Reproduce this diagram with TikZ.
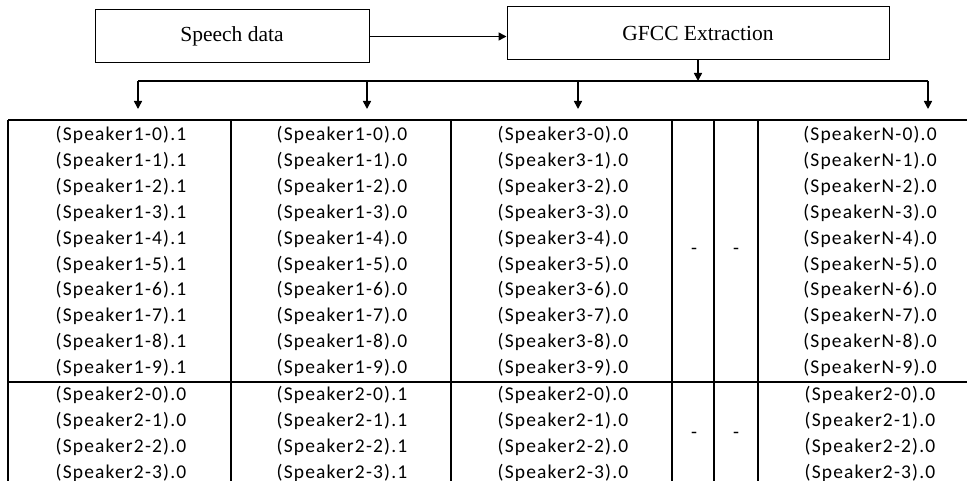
\documentclass[tikz,border=0pt]{standalone}
\usepackage{fontspec}
\setmainfont{Liberation Serif}
\newfontfamily\cellfont[LetterSpace=6]{Carlito}
\usetikzlibrary{arrows.meta}

\begin{document}
\begin{tikzpicture}[x=1pt,y=-1pt,
  procbox/.style={draw, line width=1pt, inner sep=0pt, minimum height=53pt,
                  font=\fontsize{21.5}{24}\selectfont},
  link/.style={line width=1.6pt, -{Triangle[length=8pt,width=8pt]}},
  rule/.style={line width=1.6pt},
  cell/.style={inner sep=0pt, font=\cellfont\fontsize{19.5}{22}\selectfont},
]
\useasboundingbox (0,0) rectangle (967,481);

% processing blocks
\node[procbox, minimum width=274pt] (speech) at (232,36.5) {Speech data};
\node[procbox, minimum width=382pt] (gfcc) at (698,33.5) {GFCC Extraction};
\draw[link] (speech.east) -- (speech.east -| gfcc.west);

% distribution bus
\coordinate (busL) at (138,81);
\coordinate (busR) at (928,81);
\coordinate (busM) at (gfcc.south |- busL);
\draw[link] (gfcc.south) -- (busM);
\draw[line width=1.6pt] (busL) -- (busR);
\foreach \x [count=\i] in {138,367,578,928} {
  \coordinate (top\i) at (\x,81);
  \coordinate (tip\i) at (\x,109);
  \draw[link] (top\i) -- (tip\i);
}

% table grid
\draw[rule] (8,120) -- (967,120);
\draw[rule] (8,382) -- (967,382);
\foreach \x in {8,231,451,672,714,758} {
  \draw[rule] (\x,120) -- (\x,481);
}

% first block of rows
\foreach \k in {0,...,9} {
  \pgfmathsetmacro{\yy}{135+25.9*\k}
  \node[cell] (a\k) at (121,\yy) {(Speaker1-\k).1};
  \node[cell] (b\k) at (342,\yy) {(Speaker1-\k).0};
  \node[cell] (c\k) at (563,\yy) {(Speaker3-\k).0};
  \node[cell] (e\k) at (870,\yy) {(SpeakerN-\k).0};
}
\node[cell] (d1) at (694,251) {-};
\node[cell] (d2) at (736,251) {-};

% second block of rows
\foreach \k in {0,...,3} {
  \pgfmathsetmacro{\yy}{395+25.9*\k}
  \node[cell] (f\k) at (121,\yy) {(Speaker2-\k).0};
  \node[cell] (g\k) at (342,\yy) {(Speaker2-\k).1};
  \node[cell] (h\k) at (563,\yy) {(Speaker2-\k).0};
  \node[cell] (j\k) at (870,\yy) {(Speaker2-\k).0};
}
\node[cell] (d3) at (694,435) {-};
\node[cell] (d4) at (736,435) {-};
\end{tikzpicture}
\end{document}
